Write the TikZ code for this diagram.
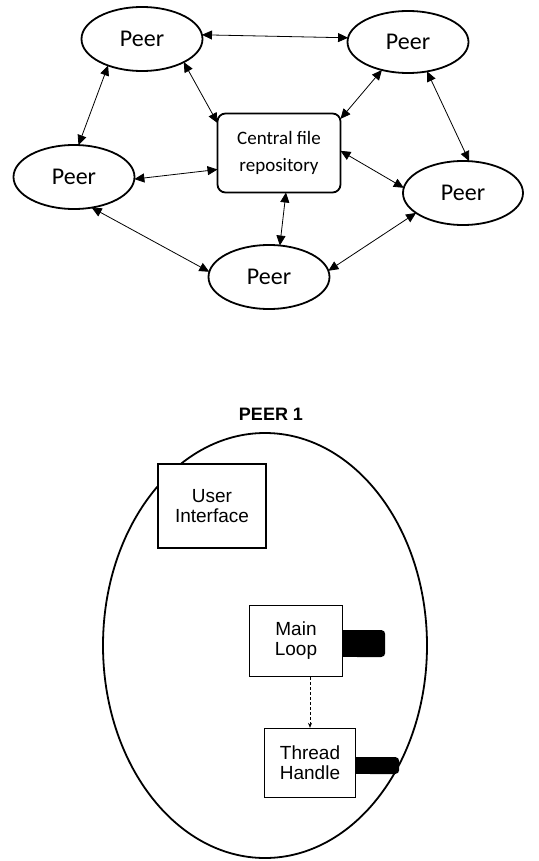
\documentclass[tikz,border=0pt]{standalone}
\usepackage{fontspec}
\newfontfamily\calibrifont{Carlito}
\newfontfamily\arialfont{Liberation Sans}
\usetikzlibrary{shapes.geometric,arrows.meta}
\tikzset{
  peer/.style={ellipse, draw, line width=1.8pt, minimum width=121pt, minimum height=64pt,
    inner sep=0pt, outer sep=0pt, font=\calibrifont\fontsize{24}{28}\selectfont},
  repo/.style={draw, rounded corners=8pt, line width=1.8pt, minimum width=123pt,
    minimum height=79pt, inner sep=0pt, outer sep=0pt, align=center,
    font=\calibrifont\fontsize{19}{27}\selectfont},
  link/.style={{Triangle[length=10pt,width=9pt]}-{Triangle[length=10pt,width=9pt]}, line width=0.8pt},
  compbox/.style={draw, fill=white, line width=1.4pt, align=center, inner sep=0pt,
    font=\arialfont\fontsize{19}{20}\selectfont},
  tabfill/.style={fill=black},
  callarrow/.style={-{Stealth[length=5pt,width=4pt]}, line width=0.6pt, dash pattern=on 3pt off 2pt}
}
\begin{document}
\begin{tikzpicture}[x=1pt,y=-1pt]
\useasboundingbox (0,0) rectangle (538,861);
% ---- top network ----
\node[peer] (tl) at (142,39) {Peer};
\node[peer, minimum height=62pt] (tr) at (408,42) {Peer};
\node[peer] (l) at (74,177) {Peer};
\node[peer, minimum width=120pt] (r) at (463,193) {Peer};
\node[peer] (b) at (269,277) {Peer};
\node[repo] (c) at (279,153) {Central file\\repository};
\draw[link] (tl.4) -- (tr.176);
\draw[link] (tl.-29) -- (c.154);
\draw[link] (tl.-142) -- (l.82);
\draw[link] (tr.-133) -- (c.29);
\draw[link] (tr.-57) -- (r.79);
\draw[link] (l.-2) -- (c.-165);
\draw[link] (c.2) -- (r.175);
\draw[link] (l.-60) -- (b.175);
\draw[link] (c.-80) -- (b.71);
\draw[link] (b.6) -- (r.-157);
% ---- bottom peer ----
\node[font=\arialfont\bfseries\fontsize{18}{20}\selectfont] (title) at (271,414) {PEER 1};
\node[ellipse, draw, line width=1.8pt, minimum width=324pt, minimum height=425pt, inner sep=0pt] (p1) at (265,645.5) {};
\node[compbox, minimum width=108pt, minimum height=84pt] (ui) at (212,506) {User\\Interface};
\node[compbox, minimum width=93pt, minimum height=71pt] (ml) at (296,641) {Main\\Loop};
\node[compbox, minimum width=91pt, minimum height=69pt] (th) at (310,763) {Thread\\Handle};
\fill[tabfill] (ml.east) ++(0,-11) rectangle ++(30,27);
\fill[tabfill, rounded corners=4pt] (ml.east) ++(10,-11) rectangle ++(32,27);
\fill[tabfill] (th.east) ++(0,-6) rectangle ++(30,17);
\fill[tabfill, rounded corners=4pt] (th.east) ++(10,-6) rectangle ++(33,17);
\draw[callarrow] (th.north |- ml.south) -- (th.north);
\end{tikzpicture}
\end{document}
